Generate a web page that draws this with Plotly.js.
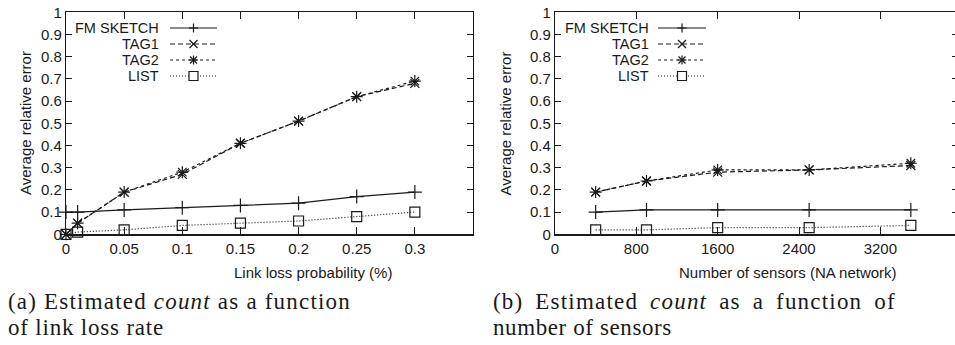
<!DOCTYPE html>
<html>
<head>
<meta charset="utf-8">
<script src="https://cdn.plot.ly/plotly-3.0.1.min.js"></script>
<style>
html,body{margin:0;padding:0;overflow:hidden;background:#fff;}
#chart{width:965px;height:345px;}
</style>
</head>
<body>
<div id="chart"></div>
<script>
// ---- data: (a) link loss ----
const lossX = [0, 0.01, 0.05, 0.1, 0.15, 0.2, 0.25, 0.3];
const lossFM = [0.10, 0.10, 0.11, 0.12, 0.13, 0.14, 0.17, 0.19];
const lossTAG1 = [0, 0.05, 0.19, 0.27, 0.41, 0.51, 0.62, 0.68];
const lossTAG2 = [0, 0.05, 0.19, 0.28, 0.41, 0.51, 0.62, 0.69];
const lossLIST = [0, 0.01, 0.02, 0.04, 0.05, 0.06, 0.08, 0.10];
const lossTicks = [0, 0.05, 0.1, 0.15, 0.2, 0.25, 0.3];

// ---- data: (b) number of sensors ----
const sensX = [400, 900, 1600, 2500, 3500];
const sensFM = [0.10, 0.11, 0.11, 0.11, 0.11];
const sensTAG1 = [0.19, 0.24, 0.28, 0.29, 0.31];
const sensTAG2 = [0.19, 0.24, 0.29, 0.29, 0.32];
const sensLIST = [0.02, 0.02, 0.03, 0.03, 0.04];
const sensTicks = [0, 800, 1600, 2400, 3200];

const yTicks = [0, 0.1, 0.2, 0.3, 0.4, 0.5, 0.6, 0.7, 0.8, 0.9, 1];
const seriesNames = ["FM SKETCH", "TAG1", "TAG2", "LIST"];
const yTitle = "Average relative error";
const xTitles = ["Link loss probability (%)", "Number of sensors (NA network)"];

const W = 965, H = 345;
const INK = "#1a1a1a";
const styles = [
  {dash: "solid", symbol: "cross-thin-open", size: 10},
  {dash: "5px,3px", symbol: "x-thin-open", size: 9},
  {dash: "3px,3px", symbol: "asterisk-open", size: 10},
  {dash: "1px,2px", symbol: "square-open", size: 10}
];

function mk(x, y, i, xa, ya) {
  return {
    x: x, y: y, xaxis: xa, yaxis: ya, type: "scatter", mode: "lines+markers",
    name: seriesNames[i], showlegend: false, cliponaxis: false,
    line: {color: INK, width: 1.2, dash: styles[i].dash},
    marker: {symbol: styles[i].symbol, size: styles[i].size, color: INK,
             line: {color: INK, width: 1.2}}
  };
}

const data = [
  mk(lossX, lossFM, 0, "x", "y"),
  mk(lossX, lossTAG1, 1, "x", "y"),
  mk(lossX, lossTAG2, 2, "x", "y"),
  mk(lossX, lossLIST, 3, "x", "y"),
  mk(sensX, sensFM, 0, "x2", "y2"),
  mk(sensX, sensTAG1, 1, "x2", "y2"),
  mk(sensX, sensTAG2, 2, "x2", "y2"),
  mk(sensX, sensLIST, 3, "x2", "y2")
];

const px = v => v / W;
const py = v => 1 - v / H;
const sans = "Liberation Sans, Arial, sans-serif";
const tickFont = {family: sans, size: 15, color: INK};

function xax(l, r, anchor, range, ticks) {
  return {
    domain: [px(l), px(r)], range: range, anchor: anchor,
    tickmode: "array", tickvals: ticks, ticktext: ticks.map(String),
    ticks: "inside", ticklen: 7, tickwidth: 1, tickcolor: INK,
    showline: true, linecolor: INK, linewidth: 1.2, mirror: "allticks",
    showgrid: false, zeroline: false, tickfont: tickFont, automargin: false
  };
}
function yax(anchor) {
  return {
    domain: [1 - 234.3 / H, 1 - 12.3 / H], range: [0, 1], anchor: anchor,
    tickmode: "array", tickvals: yTicks, ticktext: yTicks.map(String),
    ticks: "inside", ticklen: 6, tickwidth: 1, tickcolor: INK,
    showline: true, linecolor: INK, linewidth: 1.2, mirror: "allticks",
    showgrid: false, zeroline: false, tickfont: tickFont, automargin: false
  };
}

const shapes = [];
const annotations = [];

// axis titles
[25.5, 505].forEach(xc => annotations.push({xref: "paper", yref: "paper", x: px(xc), y: py(123.5),
  xanchor: "center", yanchor: "middle", textangle: -90, showarrow: false, text: yTitle,
  font: {family: sans, size: 15, color: INK}}));
[[313, 0], [788, 1]].forEach(([xc, k]) => annotations.push({xref: "paper", yref: "paper",
  x: px(xc), y: py(272), xanchor: "center", yanchor: "middle", showarrow: false,
  text: xTitles[k], font: {family: sans, size: 15, color: INK}}));

// ---- manual gnuplot-style legends (text right-aligned, sample on the right) ----
const rowsY = [28.0, 44.0, 60.0, 76.0];
function legend(textRight, lineL, lineR) {
  const mx = (lineL + lineR) / 2;
  rowsY.forEach((yy, i) => {
    annotations.push({xref: "paper", yref: "paper", x: px(textRight), y: py(yy),
      xanchor: "right", yanchor: "middle", showarrow: false, text: seriesNames[i],
      borderpad: 0, font: {family: sans, size: 14.5, color: INK}});
    shapes.push({type: "line", xref: "paper", yref: "paper",
      x0: px(lineL), x1: px(lineR), y0: py(yy), y1: py(yy),
      line: {color: INK, width: 1.2, dash: styles[i].dash}});
    const s = 4.5;
    const seg = (x0, y0, x1, y1) => shapes.push({type: "line", xref: "paper", yref: "paper",
      x0: px(x0), x1: px(x1), y0: py(y0), y1: py(y1), line: {color: INK, width: 1.2}});
    if (i === 0) { seg(mx - s, yy, mx + s, yy); seg(mx, yy - s, mx, yy + s); }
    if (i === 1) { seg(mx - 4, yy - 4, mx + 4, yy + 4); seg(mx - 4, yy + 4, mx + 4, yy - 4); }
    if (i === 2) { seg(mx - s, yy, mx + s, yy); seg(mx, yy - s, mx, yy + s);
                   seg(mx - 3.5, yy - 3.5, mx + 3.5, yy + 3.5); seg(mx - 3.5, yy + 3.5, mx + 3.5, yy - 3.5); }
    if (i === 3) { shapes.push({type: "rect", xref: "paper", yref: "paper",
                   x0: px(mx - 4.5), x1: px(mx + 4.5), y0: py(yy - 4.5), y1: py(yy + 4.5),
                   fillcolor: "#fff", line: {color: INK, width: 1.2}}); }
  });
}
legend(160, 170, 217);
legend(649.5, 658, 706);

// ---- captions (one annotation per line) ----
const capFont = {family: "Liberation Serif, DejaVu Serif, serif", size: 23, color: INK};
const captions = [
  [7, 301, "(a) Estimated <i>count</i> as a function", "1.2px", "0px"],
  [7, 327, "of link loss rate", "0.8px", "0px"],
  [492, 301, "(b) Estimated <i>count</i> as a function of", "1.2px", "5px"],
  [492, 327, "number of sensors", "0.6px", "0px"]
];
captions.forEach(([xl, yc, t, ls, ws]) => annotations.push({xref: "paper", yref: "paper",
  x: px(xl), y: py(yc), xanchor: "left", yanchor: "middle", align: "left", showarrow: false,
  borderpad: 0, font: capFont,
  text: '<span style="letter-spacing:' + ls + ';word-spacing:' + ws + '">' + t + '</span>'}));

const layout = {
  width: W, height: H, margin: {l: 0, r: 0, t: 0, b: 0},
  paper_bgcolor: "#fff", plot_bgcolor: "#fff", showlegend: false,
  xaxis: xax(66, 473, "y", [0, 0.35], lossTicks),
  yaxis: yax("x"),
  xaxis2: xax(555, 958, "y2", [0, 3964], sensTicks),
  yaxis2: yax("x2"),
  shapes: shapes, annotations: annotations
};

Plotly.newPlot("chart", data, layout, {staticPlot: true, displayModeBar: false});
</script>
</body>
</html>
